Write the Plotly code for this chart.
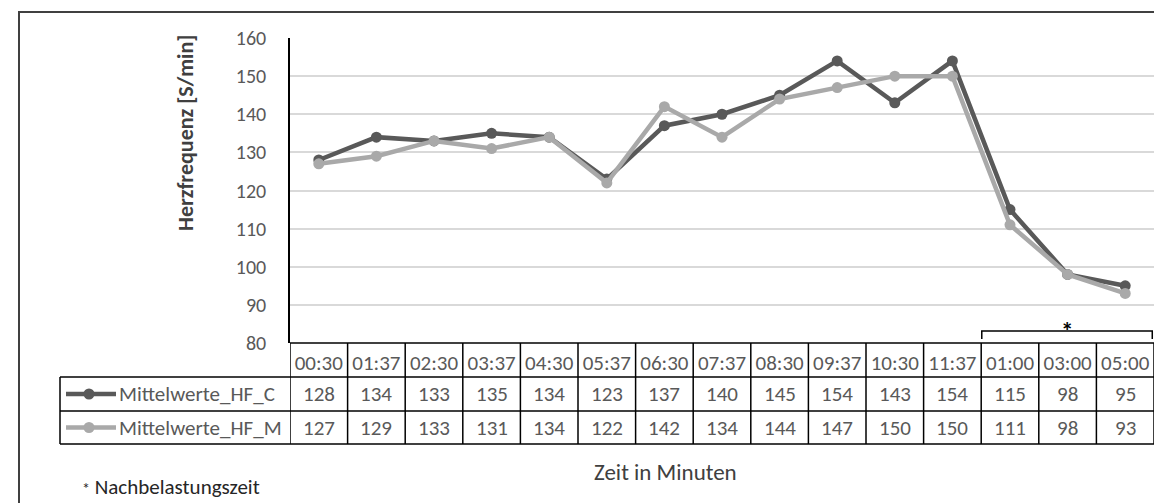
import plotly.graph_objects as go

# ---- data ----
zeiten = ["00:30", "01:37", "02:30", "03:37", "04:30", "05:37", "06:30", "07:37",
          "08:30", "09:37", "10:30", "11:37", "01:00", "03:00", "05:00"]
hf_c = [128, 134, 133, 135, 134, 123, 137, 140, 145, 154, 143, 154, 115, 98, 95]
hf_m = [127, 129, 133, 131, 134, 122, 142, 134, 144, 147, 150, 150, 111, 98, 93]
series_names = ["Mittelwerte_HF_C", "Mittelwerte_HF_M"]
series_colors = ["#595959", "#a9a9a9"]
nach_start = 12  # index of first post-exercise time point

# page body has an 8px margin; figure is sized so that it fills the window
W, H = 1154, 495
L, R, T, B = 282, 8, 30, 160
PW = W - L - R
PH = H - T - B
FONT = "Carlito, Calibri, Liberation Sans, Arial, sans-serif"
X0, Y0 = 290, 343  # plot-area origin in window pixels


def px(x):
    return (x - X0) / PW


def py(y):
    return (Y0 - y) / PH


fig = go.Figure()
for name, vals, col in zip(series_names, [hf_c, hf_m], series_colors):
    fig.add_trace(go.Scatter(
        x=zeiten, y=vals, mode="lines+markers", name=name,
        line=dict(color=col, width=4.5),
        marker=dict(color=col, size=11),
        showlegend=False, cliponaxis=False))

shapes = []
annotations = []
line_k = dict(color="#000000", width=1.5)

y_top = 0
y_h = py(377)
y_r1 = py(411)
y_r2 = py(444)
x_leg = px(60)
n = len(zeiten)

for i in range(n + 1):
    shapes.append(dict(type="line", xref="x", yref="paper", x0=i - 0.5, x1=i - 0.5,
                       y0=y_top, y1=y_r2, line=line_k))
shapes.append(dict(type="line", xref="x", yref="paper", x0=-0.5, x1=n - 0.5,
                   y0=y_top, y1=y_top, line=line_k))
for yy in [y_h, y_r1, y_r2]:
    shapes.append(dict(type="line", xref="paper", yref="paper", x0=x_leg, x1=0,
                       y0=yy, y1=yy, line=line_k))
    shapes.append(dict(type="line", xref="x", yref="paper", x0=-0.5, x1=n - 0.5,
                       y0=yy, y1=yy, line=line_k))
shapes.append(dict(type="line", xref="paper", yref="paper", x0=x_leg, x1=x_leg,
                   y0=y_h, y1=y_r2, line=line_k))

row_centers = [(y_h + y_r1) / 2, (y_r1 + y_r2) / 2]
for vals, yc, name, col in zip([hf_c, hf_m], row_centers, series_names, series_colors):
    for cat, v in zip(zeiten, vals):
        annotations.append(dict(x=cat, y=yc, xref="x", yref="paper", text=str(v),
                                xanchor="center", yanchor="middle", showarrow=False,
                                font=dict(size=21, color="#595959", family=FONT)))
    shapes.append(dict(type="line", xref="paper", yref="paper", x0=px(66), x1=px(116),
                       y0=yc, y1=yc, line=dict(color=col, width=4.5)))
    r = 5.5
    shapes.append(dict(type="circle", xref="paper", yref="paper",
                       x0=px(89 - r), x1=px(89 + r), y0=yc - r / PH, y1=yc + r / PH,
                       fillcolor=col, line=dict(color=col, width=0)))
    annotations.append(dict(x=px(117), y=yc, xref="paper", yref="paper", text=name,
                            xanchor="left", yanchor="middle", showarrow=False,
                            font=dict(size=21, color="#595959", family=FONT)))

bx0, bx1 = nach_start - 0.5 + 0.01, n - 0.5 - 0.03
shapes.append(dict(type="path", xref="x", yref="y",
                   path=f"M {bx0},81.05 L {bx0},83.15 L {bx1},83.15 L {bx1},81.05",
                   line=dict(color="#000000", width=1.5)))
annotations.append(dict(x=(bx0 + bx1) / 2, y=83.2, xref="x", yref="y", text="<b>*</b>",
                        xanchor="center", yanchor="middle", showarrow=False,
                        font=dict(size=25, color="#000000", family=FONT)))

shapes.append(dict(type="rect", xref="paper", yref="paper", x0=px(19), x1=px(1161),
                   y0=-1.0, y1=py(12), line=dict(color="#404040", width=2)))

annotations.append(dict(x=px(185), y=py(133), xref="paper", yref="paper",
                        text="<b>Herzfrequenz [S/min]</b>", textangle=-90, showarrow=False,
                        xanchor="center", yanchor="middle",
                        font=dict(size=22, color="#404040", family=FONT)))
annotations.append(dict(x=px(665), y=py(472), xref="paper", yref="paper",
                        text="Zeit in Minuten", showarrow=False,
                        xanchor="center", yanchor="middle",
                        font=dict(size=23, color="#404040", family=FONT)))
annotations.append(dict(x=px(80), y=py(487), xref="paper", yref="paper",
                        text="<span style='font-size:16px'>*</span> Nachbelastungszeit",
                        xanchor="left", yanchor="middle", showarrow=False,
                        font=dict(size=21, color="#262626", family=FONT)))

fig.update_layout(
    width=W, height=H,
    margin=dict(l=L, r=R, t=T, b=B),
    paper_bgcolor="white", plot_bgcolor="white",
    shapes=shapes, annotations=annotations,
    xaxis=dict(type="category", range=[-0.5, n - 0.5], showgrid=False, zeroline=False,
               showline=False, ticks="", ticklabelstandoff=5, automargin=False,
               tickfont=dict(size=21, color="#595959", family=FONT)),
    yaxis=dict(range=[80, 160], dtick=10, showgrid=True, gridcolor="#d9d9d9", gridwidth=1.5,
               zeroline=False, showline=True, linecolor="#000000", linewidth=1.5,
               ticks="", ticklabelstandoff=18, automargin=False,
               tickfont=dict(size=20, color="#595959", family=FONT)),
)

fig.write_html("out.html")
